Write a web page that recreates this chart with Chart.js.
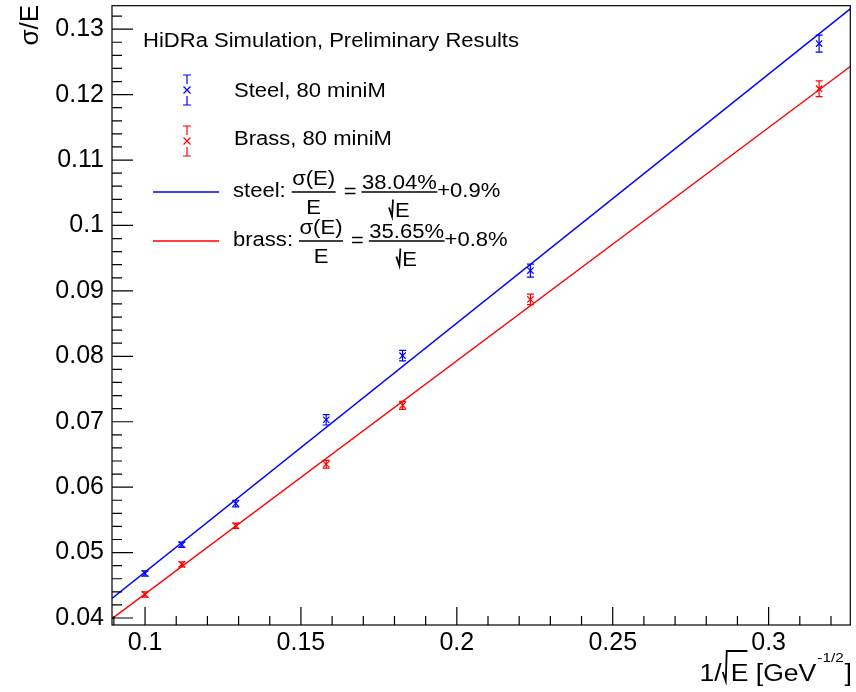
<!DOCTYPE html>
<html><head><meta charset="utf-8">
<script src="https://cdn.jsdelivr.net/npm/chart.js@4.4.1/dist/chart.umd.min.js"></script>
<style>html,body{margin:0;padding:0;background:#fff;}canvas{display:block}</style>
</head><body>
<canvas id="c" width="856" height="692"></canvas>
<script>
// ---- data ----
const invSqrtE = [0.1000, 0.1118, 0.1291, 0.1581, 0.1826, 0.2236, 0.3162];
const steelRes = [0.0468, 0.0512, 0.0575, 0.0703, 0.0801, 0.0931, 0.1278];
const steelErr = [0.0004, 0.0004, 0.0005, 0.0008, 0.0008, 0.0010, 0.0013];
const brassRes = [0.0436, 0.0482, 0.0541, 0.0635, 0.0725, 0.0887, 0.1209];
const brassErr = [0.0004, 0.0004, 0.0004, 0.0006, 0.0006, 0.0008, 0.0012];
const fitX = [0.0894, 0.3262];
const steelFit = [0.0430, 0.1331];
const brassFit = [0.0399, 0.1243];
const xTicks = [0.1, 0.15, 0.2, 0.25, 0.3];
const yTicks = [0.04, 0.05, 0.06, 0.07, 0.08, 0.09, 0.1, 0.11, 0.12, 0.13];
const xMinor = [0.09,0.11,0.12,0.13,0.14,0.16,0.17,0.18,0.19,0.21,0.22,0.23,0.24,0.26,0.27,0.28,0.29,0.31,0.32];
const yMinor = [0.042,0.044,0.046,0.048,0.052,0.054,0.056,0.058,0.062,0.064,0.066,0.068,0.072,0.074,0.076,0.078,
                0.082,0.084,0.086,0.088,0.092,0.094,0.096,0.098,0.102,0.104,0.106,0.108,0.112,0.114,0.116,0.118,
                0.122,0.124,0.126,0.128,0.132];
const xRange = [0.0894, 0.3262];
const yRange = [0.03893, 0.13359];
const BLUE = 'rgb(0,0,255)', RED = 'rgb(255,0,0)';
const FONT = 'Liberation Sans, Arial, Helvetica, sans-serif';
const SX = 1.13;   // horizontal stretch of the reference's text

const pts = (xs, ys) => xs.map((x, i) => ({x, y: ys[i]}));
const fmt = v => String(+(+v).toFixed(3));

// stretched text; returns drawn width
function st(ctx, str, x, y, size, align) {
  ctx.save();
  ctx.font = size + 'px ' + FONT;
  const w = ctx.measureText(str).width * SX;
  const x0 = align === 'center' ? x - w / 2 : align === 'right' ? x - w : x;
  ctx.translate(x0, y); ctx.scale(SX, 1);
  ctx.textAlign = 'left'; ctx.textBaseline = 'alphabetic';
  ctx.fillStyle = '#000';
  ctx.fillText(str, 0, 0);
  ctx.restore();
  return w;
}
function tw(ctx, str, size) { ctx.font = size + 'px ' + FONT; return ctx.measureText(str).width * SX; }
function descent(ctx, str, size) { ctx.font = size + 'px ' + FONT; return ctx.measureText(str).actualBoundingBoxDescent; }

function errBars(ctx, xs, ys, es, color, chart) {
  const sx = chart.scales.x, sy = chart.scales.y;
  ctx.save();
  ctx.strokeStyle = color; ctx.lineWidth = 1.2;
  ctx.beginPath();
  xs.forEach((xv, i) => {
    const px = sx.getPixelForValue(xv);
    const p1 = sy.getPixelForValue(ys[i] - es[i]);
    const p2 = sy.getPixelForValue(ys[i] + es[i]);
    ctx.moveTo(px, p1); ctx.lineTo(px, p2);
    ctx.moveTo(px - 3.5, p1); ctx.lineTo(px + 3.5, p1);
    ctx.moveTo(px - 3.5, p2); ctx.lineTo(px + 3.5, p2);
  });
  ctx.stroke();
  ctx.restore();
}

function legendIcon(ctx, x, yc, color) {
  ctx.save();
  ctx.strokeStyle = color; ctx.lineWidth = 1.2;
  ctx.beginPath();
  ctx.moveTo(x, yc - 15); ctx.lineTo(x, yc - 6);
  ctx.moveTo(x, yc + 6); ctx.lineTo(x, yc + 15);
  ctx.moveTo(x - 4, yc - 15); ctx.lineTo(x + 4, yc - 15);
  ctx.moveTo(x - 4, yc + 15); ctx.lineTo(x + 4, yc + 15);
  ctx.moveTo(x - 3.5, yc - 3.5); ctx.lineTo(x + 3.5, yc + 3.5);
  ctx.moveTo(x - 3.5, yc + 3.5); ctx.lineTo(x + 3.5, yc - 3.5);
  ctx.stroke();
  ctx.restore();
}

// sqrt sign: returns width used before the radicand
function sqrtSign(ctx, x, base, top, overW) {
  ctx.save();
  ctx.strokeStyle = '#000'; ctx.lineWidth = 1.8; ctx.lineJoin = 'miter';
  ctx.beginPath();
  ctx.moveTo(x, base - 9);
  ctx.lineTo(x + 3, base);
  ctx.lineTo(x + 4, top);
  if (overW) ctx.lineTo(x + 5 + overW, top);
  ctx.stroke();
  ctx.restore();
  return 6;
}

const FS = 19.5;
function frac(ctx, x, barY, num, den, sqrtDen) {
  const nw = tw(ctx, num, FS);
  const dw = tw(ctx, den, FS) + (sqrtDen ? 6 : 0);
  const w = Math.max(nw, dw) + 1;
  st(ctx, num, x + w / 2, barY - 3 - descent(ctx, num, FS), FS, 'center');
  if (sqrtDen) {
    const dx = x + (w - dw) / 2;
    const base = barY + 24.5;
    sqrtSign(ctx, dx, base, barY + 7.5, 0);
    st(ctx, den, dx + 6, base, FS, 'left');
  } else {
    st(ctx, den, x + w / 2, barY + 21.5, FS, 'center');
  }
  ctx.save();
  ctx.strokeStyle = '#000'; ctx.lineWidth = 1.5;
  ctx.beginPath(); ctx.moveTo(x, barY); ctx.lineTo(x + w, barY); ctx.stroke();
  ctx.restore();
  return w;
}

function formulaRow(ctx, lineColor, lineY, label, pct, constTerm) {
  ctx.save();
  ctx.strokeStyle = lineColor; ctx.lineWidth = 1.3;
  ctx.beginPath(); ctx.moveTo(153, lineY); ctx.lineTo(219, lineY); ctx.stroke();
  ctx.restore();
  let x = 233;
  x += st(ctx, label, x, lineY + 5, FS, 'left') + 6;
  x += frac(ctx, x, lineY, 'σ(E)', 'E', false) + 8;
  x += st(ctx, '=', x, lineY + 6, FS, 'left') + 5;
  x += frac(ctx, x, lineY, pct, 'E', true);
  st(ctx, constTerm, x, lineY + 5, FS, 'left');
}

const rootPlugin = {
  id: 'rootStyle',
  afterDatasetsDraw(chart) {
    const ctx = chart.ctx;
    errBars(ctx, invSqrtE, steelRes, steelErr, BLUE, chart);
    errBars(ctx, invSqrtE, brassRes, brassErr, RED, chart);
  },
  afterDraw(chart) {
    const ctx = chart.ctx, a = chart.chartArea;
    const sx = chart.scales.x, sy = chart.scales.y;
    ctx.save();
    // frame
    ctx.strokeStyle = '#000'; ctx.lineWidth = 1.2;
    ctx.strokeRect(a.left, a.top, a.right - a.left, a.bottom - a.top);
    // ticks (inward)
    ctx.beginPath();
    xTicks.forEach(v => { const p = sx.getPixelForValue(v); ctx.moveTo(p, a.bottom); ctx.lineTo(p, a.bottom - 18); });
    xMinor.forEach(v => { const p = sx.getPixelForValue(v); if (p > a.left + 1 && p < a.right - 1) { ctx.moveTo(p, a.bottom); ctx.lineTo(p, a.bottom - 9); } });
    yTicks.forEach(v => { const p = sy.getPixelForValue(v); ctx.moveTo(a.left, p); ctx.lineTo(a.left + 21, p); });
    yMinor.forEach(v => { const p = sy.getPixelForValue(v); if (p > a.top + 1 && p < a.bottom - 1) { ctx.moveTo(a.left, p); ctx.lineTo(a.left + 10, p); } });
    ctx.stroke();

    // legend block
    st(ctx, 'HiDRa Simulation, Preliminary Results', 143, 47, 19.5, 'left');
    legendIcon(ctx, 187, 90, BLUE);
    legendIcon(ctx, 187, 141, RED);
    st(ctx, 'Steel, 80 miniM', 234, 97, 19.5, 'left');
    st(ctx, 'Brass, 80 miniM', 234, 145, 19.5, 'left');
    formulaRow(ctx, BLUE, 192, 'steel:', '38.04%', '+0.9%');
    formulaRow(ctx, RED, 241, 'brass:', '35.65%', '+0.8%');

    // y title
    ctx.save();
    ctx.translate(38, 5);
    ctx.rotate(-Math.PI / 2);
    ctx.font = '26px ' + FONT;
    ctx.textAlign = 'right';
    ctx.fillStyle = '#000';
    ctx.fillText('σ/E', 0, 0);
    ctx.restore();

    // x title: 1/√E [GeV^-1/2]
    const base = 681, big = 23.5, small = 13.5;
    const w1 = tw(ctx, '1/', big), w3 = tw(ctx, 'E', big), w4 = tw(ctx, ' [GeV', big),
          w5 = tw(ctx, '-1/2', small) + 2, w6 = tw(ctx, ']', big);
    let x = 852 - (w1 + 9 + w3 + w4 + w5 + w6);
    st(ctx, '1/', x, base, big, 'left'); x += w1 + 1;
    sqrtSign(ctx, x, base, base - 30, w3 + 2); x += 8;
    st(ctx, 'E', x, base, big, 'left'); x += w3;
    st(ctx, ' [GeV', x, base, big, 'left'); x += w4;
    st(ctx, '-1/2', x + 1, base - 19, small, 'left'); x += w5;
    st(ctx, ']', x, base, big, 'left');
    ctx.restore();
  }
};

new Chart(document.getElementById('c'), {
  data: {
    datasets: [
      { type: 'line', data: pts(fitX, steelFit), borderColor: BLUE, borderWidth: 1.4, pointRadius: 0, fill: false },
      { type: 'line', data: pts(fitX, brassFit), borderColor: RED, borderWidth: 1.4, pointRadius: 0, fill: false },
      { type: 'scatter', label: 'Steel, 80 miniM', data: pts(invSqrtE, steelRes), pointStyle: 'crossRot',
        pointRadius: 4.5, borderColor: BLUE, backgroundColor: BLUE, borderWidth: 1.2 },
      { type: 'scatter', label: 'Brass, 80 miniM', data: pts(invSqrtE, brassRes), pointStyle: 'crossRot',
        pointRadius: 4.5, borderColor: RED, backgroundColor: RED, borderWidth: 1.2 }
    ]
  },
  options: {
    responsive: false, animation: false, events: [],
    layout: { padding: { top: 5, right: 4, left: 0, bottom: 0 } },
    plugins: { legend: { display: false }, tooltip: { enabled: false } },
    scales: {
      x: {
        type: 'linear', position: 'bottom', min: xRange[0], max: xRange[1],
        afterBuildTicks: s => { s.ticks = xTicks.map(v => ({ value: v })); },
        afterFit: s => { s.height = 67; s.paddingLeft = 0; s.paddingRight = 0; },
        grid: { display: false, drawTicks: false }, border: { display: false },
        ticks: { autoSkip: false, maxRotation: 0, color: '#000', padding: 6,
                 font: { family: FONT, size: 25, lineHeight: 1 }, callback: v => fmt(v) }
      },
      y: {
        type: 'linear', position: 'left', min: yRange[0], max: yRange[1],
        afterBuildTicks: s => { s.ticks = yTicks.map(v => ({ value: v })); },
        afterFit: s => { s.width = 112; s.paddingTop = 0; s.paddingBottom = 0; },
        grid: { display: false, drawTicks: false }, border: { display: false },
        ticks: { autoSkip: false, color: '#000', padding: 8, crossAlign: 'near',
                 font: { family: FONT, size: 25, lineHeight: 1 }, callback: v => fmt(v) }
      }
    }
  },
  plugins: [rootPlugin]
});
</script>
</body></html>
